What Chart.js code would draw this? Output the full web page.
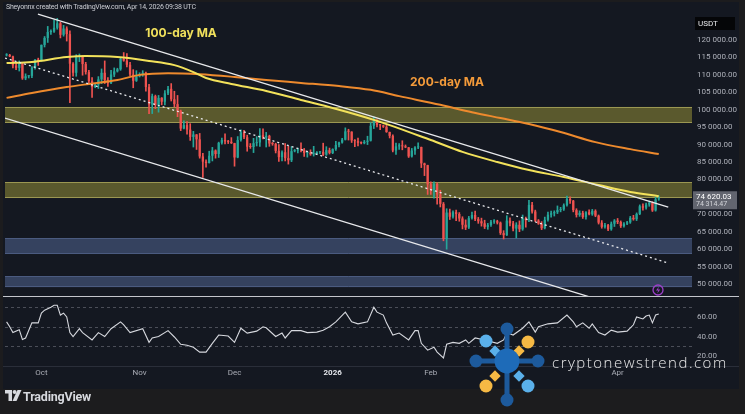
<!DOCTYPE html>
<html><head><meta charset="utf-8">
<script src="https://cdn.jsdelivr.net/npm/chart.js@4.4.1/dist/chart.umd.min.js"></script>
<style>
html,body{margin:0;padding:0;background:#1c1c1e;width:745px;height:414px;overflow:hidden;font-family:Roboto,"Noto Sans",sans-serif;}
#panel{position:absolute;left:3px;top:2px;width:736px;height:387px;background:#141821;}
canvas{position:absolute;left:0;}
#c1{top:0;}
#c2{top:297px;}
#hdr{position:absolute;left:6px;top:3px;font-size:7px;letter-spacing:-0.2px;color:#c9cbd1;white-space:nowrap;}
#sep1{position:absolute;left:3px;top:296px;width:736px;height:1px;background:#c4c6cc;}
#sep2{position:absolute;left:3px;top:366px;width:736px;height:1px;background:#2a2e39;}
#foot{position:absolute;left:5px;top:388px;height:16px;display:flex;align-items:center;color:#d7d9de;font-weight:700;font-size:12.5px;letter-spacing:-0.2px;}
#wm{position:absolute;left:552px;top:352px;font-family:"Open Sans",sans-serif;font-size:15px;font-weight:300;letter-spacing:1.5px;color:#e9e9ea;white-space:nowrap;}
#ov{position:absolute;left:0;top:0;}
</style></head>
<body>
<div id="panel"></div>
<canvas id="c1" width="745" height="297"></canvas>
<canvas id="c2" width="745" height="90"></canvas>
<div id="sep1"></div><div id="sep2"></div>
<div id="hdr">Sheyonnx created with TradingView.com, Apr 14, 2026 09:38 UTC</div>
<svg id="ov" width="745" height="414">
  <circle cx="658" cy="290" r="5" fill="none" stroke="#9c3fc9" stroke-width="1.3"/>
  <path d="M659 286.5l-3 4h2.2l-1 3 3-4h-2.2z" fill="#9c3fc9"/>
  <g>
    <rect x="504.5" y="334" width="5" height="62" fill="#1d5a9c"/>
    <rect x="482" y="358.5" width="50" height="5" fill="#1d5a9c"/>
    <circle cx="507" cy="329" r="6.5" fill="#1d5a9c"/>
    <circle cx="476" cy="361" r="6.5" fill="#1d5a9c"/>
    <circle cx="538" cy="361" r="6.5" fill="#1d5a9c"/>
    <circle cx="507" cy="400" r="6.5" fill="#1d5a9c"/>
    <circle cx="486" cy="341" r="6.5" fill="#5ab0ea"/>
    <circle cx="528" cy="342" r="6.5" fill="#f6b944"/>
    <circle cx="486" cy="386" r="6.5" fill="#f6b944"/>
    <circle cx="528" cy="386" r="6.5" fill="#5ab0ea"/>
    <rect x="491" y="347" width="8" height="8" transform="rotate(45 495 351)" fill="#5ab0ea"/>
    <rect x="515" y="347" width="8" height="8" transform="rotate(45 519 351)" fill="#f6b944"/>
    <rect x="491" y="372" width="8" height="8" transform="rotate(45 495 376)" fill="#f6b944"/>
    <rect x="515" y="372" width="8" height="8" transform="rotate(45 519 376)" fill="#5ab0ea"/>
    <circle cx="507" cy="361" r="12.5" fill="#1e6bb8"/>
  </g>
  <g transform="translate(5,390)">
    <path d="M0 0h7v11H3.5V3.5H0z" fill="#d7d9de"/>
    <circle cx="9.6" cy="2" r="2" fill="#d7d9de"/>
    <path d="M12.5 0h4l-5 11H7.5z" fill="#d7d9de"/>
  </g>
</svg>
<div id="foot" style="left:23px">TradingView</div>
<div id="wm">cryptonewstrend.com</div>
<script>
// ---- data (prices in thousands of USDT) ----
const startDay = -11; // first candle: 20 Sep 2025 (day 0 = 1 Oct 2025)
const opens = [115.6,115.7,115.3,112.7,112.0,113.3,109.0,109.6,109.7,112.1,114.4,
114.0,118.6,120.6,122.3,122.4,123.5,124.8,121.5,123.3,121.7,113.2,110.6,115.2,115.3,113.1,110.8,108.2,106.5,107.2,108.7,110.6,108.5,107.6,110.1,111.0,111.6,114.6,114.1,112.9,110.1,108.3,
109.6,110.1,110.6,106.5,101.5,103.9,101.3,103.4,102.3,104.7,106.0,103.0,101.6,99.7,94.6,95.6,94.3,92.2,92.9,91.5,86.6,85.1,84.7,86.8,88.3,87.3,90.5,91.3,90.9,90.8,
90.4,86.3,91.3,93.5,92.1,89.4,89.3,90.4,90.6,92.7,92.0,92.5,90.3,90.2,88.2,86.4,87.8,86.1,85.5,88.1,88.3,88.6,88.5,87.6,87.7,87.2,87.3,87.8,87.9,87.1,88.4,
87.6,88.7,89.9,90.6,91.4,93.8,93.7,91.2,91.0,90.5,90.4,90.8,91.1,95.4,97.0,95.6,95.5,95.1,93.6,92.5,88.3,89.5,89.6,89.5,89.2,86.6,88.3,89.2,89.3,84.6,84.1,
78.6,76.9,78.7,75.7,73.0,62.9,70.5,69.3,70.6,70.1,68.8,67.0,66.2,68.9,69.8,68.6,68.0,67.4,66.4,66.9,67.9,68.0,67.6,64.6,64.0,68.2,67.4,65.9,
67.0,65.7,68.8,68.3,72.7,70.8,68.2,67.3,66.0,68.4,69.9,70.3,70.6,71.2,71.4,72.6,74.4,73.9,71.2,69.8,70.4,69.2,70.6,70.0,71.0,69.6,67.6,66.4,66.9,65.7,67.3,
68.2,67.8,66.6,67.3,67.7,69.0,68.6,70.1,72.3,71.9,72.8,73.3,71.1,74.3];
const highs = [116.1,115.9,115.4,113.3,114.0,113.5,110.3,109.8,112.4,114.4,114.8,
118.6,121.0,123.9,122.9,125.7,126.2,125.1,124.2,123.8,122.6,113.5,115.8,116.0,115.5,113.6,111.3,109.2,107.5,109.5,111.7,114.0,109.2,111.3,112.0,111.9,115.0,116.4,116.1,113.6,111.5,111.2,
110.6,111.2,110.8,107.3,104.5,104.2,104.1,103.5,105.5,106.7,107.5,105.3,104.1,99.9,96.8,96.6,96.0,93.8,92.9,93.2,87.5,85.6,88.1,89.2,88.5,90.7,91.9,93.1,91.2,92.0,
90.4,92.3,94.2,94.1,92.7,90.3,91.8,92.3,94.6,94.5,93.5,92.7,90.6,90.4,90.0,88.2,90.3,89.5,89.4,88.6,89.0,90.5,88.9,88.0,88.5,89.5,88.0,88.0,90.4,89.4,89.0,
88.8,90.9,90.7,91.8,94.8,94.4,93.7,91.4,91.9,90.8,91.2,92.4,96.3,97.9,97.2,95.8,95.6,95.5,93.6,92.8,90.4,90.3,91.1,89.9,89.2,88.9,89.4,90.5,89.3,84.7,84.1,
79.3,79.3,79.0,76.9,73.4,71.6,71.5,71.0,71.2,70.5,69.3,68.4,69.4,70.6,70.9,69.1,68.9,68.3,67.4,68.3,68.5,68.3,67.8,65.3,69.6,69.0,68.0,67.6,
68.1,69.8,69.2,74.0,73.4,71.2,68.5,67.9,69.2,70.6,70.9,71.0,72.4,72.0,73.0,75.2,75.0,74.0,71.6,71.0,70.9,70.8,71.3,71.4,71.3,69.8,68.2,67.4,67.1,67.8,68.5,
68.8,68.1,67.6,68.0,69.4,69.7,70.4,72.7,73.0,73.2,73.8,73.6,74.9,75.3];
const lows = [115.4,115.2,112.0,111.5,111.1,108.7,108.6,109.1,109.2,111.6,112.7,
113.9,118.0,119.3,121.6,122.2,123.1,120.6,121.1,119.7,102.0,109.6,109.6,113.8,109.9,110.2,107.6,103.5,106.3,106.1,107.5,107.5,106.7,107.5,109.5,110.8,111.3,113.9,112.3,109.8,106.3,108.1,
109.4,109.6,105.3,98.9,98.9,100.3,99.3,101.4,101.4,104.3,102.5,100.8,98.0,94.0,94.5,93.0,91.2,89.3,88.6,86.1,80.6,83.5,84.7,85.3,86.1,86.3,90.1,90.2,90.3,90.3,
83.8,86.2,91.0,91.7,88.1,88.9,87.7,89.6,89.5,91.6,89.3,89.5,89.8,87.6,85.2,85.3,85.3,84.4,85.1,87.9,87.6,87.9,86.6,86.4,86.9,86.7,87.2,87.4,86.8,86.9,87.3,
87.4,88.3,89.3,90.4,91.3,91.3,90.6,89.4,89.6,90.2,90.2,90.0,91.0,94.6,95.1,94.3,94.9,93.5,91.9,87.9,87.2,88.6,88.5,89.1,86.3,86.4,87.2,88.8,83.4,81.1,75.7,
75.7,74.6,72.9,72.1,62.4,60.0,68.5,68.9,68.2,68.0,65.8,65.6,65.9,68.6,68.2,67.4,66.6,65.9,65.7,66.5,67.4,67.2,64.2,62.9,63.9,66.7,65.2,63.2,
65.0,65.4,66.3,67.9,70.3,67.9,67.1,65.6,65.8,68.0,69.2,69.5,70.2,70.7,71.1,72.3,73.1,70.7,69.2,69.4,68.8,68.6,69.8,69.7,69.3,67.2,66.0,66.0,65.3,65.4,66.5,
67.3,66.2,66.3,67.0,67.4,68.3,68.2,69.9,71.2,71.5,72.3,70.8,70.9,74.0];
const closes = [115.7,115.3,112.7,112.0,113.3,109.0,109.6,109.7,112.1,114.4,114.0,
118.6,120.6,122.3,122.4,123.5,124.8,121.5,123.3,121.7,113.2,110.6,115.2,115.3,113.1,110.8,108.2,106.5,107.2,108.7,110.6,108.5,107.6,110.1,111.0,111.6,114.6,114.1,112.9,110.1,108.3,109.6,
110.1,110.6,106.5,101.5,103.9,101.3,103.4,102.3,104.7,106.0,103.0,101.6,99.7,94.6,95.6,94.3,92.2,92.9,91.5,86.6,85.1,84.7,86.8,88.3,87.3,90.5,91.3,90.9,90.8,90.4,
86.3,91.3,93.5,92.1,89.4,89.3,90.4,90.6,92.7,92.0,92.5,90.3,90.2,88.2,86.4,87.8,86.1,85.5,88.1,88.3,88.6,88.5,87.6,87.7,87.2,87.3,87.8,87.9,87.1,88.4,87.6,
88.7,89.9,90.6,91.4,93.8,93.7,91.2,91.0,90.5,90.4,90.8,91.1,95.4,97.0,95.6,95.5,95.1,93.6,92.5,88.3,89.5,89.6,89.5,89.2,86.6,88.3,89.2,89.3,84.6,84.1,78.6,
76.9,78.7,75.7,73.0,62.9,70.5,69.3,70.6,70.1,68.8,67.0,66.2,68.9,69.8,68.6,68.0,67.4,66.4,66.9,67.9,68.0,67.6,64.6,64.0,68.2,67.4,65.9,67.0,
65.7,68.8,68.3,72.7,70.8,68.2,67.3,66.0,68.4,69.9,70.3,70.6,71.2,71.4,72.6,74.4,73.9,71.2,69.8,70.4,69.2,70.6,70.0,71.0,69.6,67.6,66.4,66.9,65.7,67.3,68.2,
67.8,66.6,67.3,67.7,69.0,68.6,70.1,72.3,71.9,72.8,73.3,71.1,74.3,74.6];

const ma100Days = [-11,-3,8,14,24,34,42,48,52,60,71,82,92,106,123,133,144,154,165,176,186,195];
const ma100 = [113.4,113.7,115.1,115.4,115.1,114.0,112.8,110.8,109.1,107.4,105.4,102.8,100.5,96.8,91.3,87.9,85.0,82.7,80.7,78.4,76.4,75.2];
const ma200Days = [-11,-3,8,15,24,31,40,50,61,71,82,94,104,113,126,136,145,154,164,175,186,195];
const ma200 = [103.4,104.8,106.5,107.4,108.5,110.0,110.5,110.2,109.4,108.5,107.7,106.8,105.7,103.9,101.4,99.3,97.6,95.9,93.6,90.7,88.7,87.3];

const rsiDays = [-11,-10,-9,-7,-6,-5,-3,-1,0,1,3,4,5,6,7,8,9,10,12,13,16,18,20,22,25,26,28,32,34,35,37,40,42,44,46,48,50,52,54,56,59,61,63,65,68,70,71,74,76,77,79,82,84,87,89,91,93,96,98,100,103,105,106,108,109,111,113,116,118,119,120,122,124,125,127,128,130,131,132,134,135,137,140,144,146,147,149,152,154,156,157,160,163,166,168,169,171,173,174,176,178,180,182,185,187,188,190,191,192,193,194,195];
const rsi = [55,50,44,47,37,38.5,54,54,64,67,70,72,72,62,64,60,44,40,48,44,36.5,44,40,48,55,52,44,48,34,38.5,40,46,39.5,32,31,29,24,24,33,41.5,40.5,34,48.5,43.5,45.5,50,49,40,43.5,38.5,46,46,44,44.5,46.5,50,55,65,55,53,55,70,65,62,54,41.5,43.5,36.5,46,46,33,26,29,24,18,32,34,33.5,33,36.5,33,38.5,36.5,33,36.5,44,41.5,48.5,55,44.5,50,53,54,62,55,50,54,48.5,53,44,41.5,46.5,44.5,45.5,52,60,58,61,62,54,62,63];

// channel / trend lines: [day, price]
const upperLineDays = [-1.1, 198];   const upperLinePrices = [127.46, 72.09];
const lowerLineDays = [-11.5, 180];  const lowerLinePrices = [97.62, 44.40];
const midLineDays = [-11.5, 198];    const midLinePrices = [114.84, 56.02];

// horizontal zones
const zoneTops    = [100.8, 79.26, 63.2, 52.3];
const zoneBottoms = [96.2, 74.67, 58.6, 49.1];
const zoneKinds   = ['olive','olive','blue','blue'];

const priceTicks = [50,55,60,65,70,75,80,85,90,95,100,105,110,115,120];
const rsiTicks = [20,40,60];
const rsiBands = [70,50,30];
const monthDays = [0,31,61,92,123,182];
const monthLabels = ['Oct','Nov','Dec','2026','Feb','Apr'];
const maLabels = ['100-day MA','200-day MA'];
const maLabelDays = [44.1, 128.1];
const maLabelPrices = [122.0, 107.95];
const lastPriceLabel = '74 620.03';
const lastPriceSub = '74 314.47';

// ---- rendering ----
Chart.defaults.font.family = 'Roboto, "Noto Sans", sans-serif';
const UP = '#26a69a', DN = '#ef5350';
const candleColors = closes.map((c,i)=> c >= opens[i] ? UP : DN);
const pts = (ds, vs) => ds.map((d,i)=>({x:d, y:vs[i]}));
const noPad = s => { s.paddingTop = 0; s.paddingBottom = 0; s.paddingLeft = 0; s.paddingRight = 0; };

const zonesPlugin = {
  id:'zones',
  beforeDatasetsDraw(chart){
    const {ctx, chartArea:a, scales:{y}} = chart;
    ctx.save();
    zoneTops.forEach((t,i)=>{
      const y1 = y.getPixelForValue(t), y2 = y.getPixelForValue(zoneBottoms[i]);
      const olive = zoneKinds[i]==='olive';
      ctx.fillStyle = olive ? '#5a592d' : '#35425f';
      ctx.fillRect(a.left, y1, a.right-a.left, y2-y1);
      ctx.strokeStyle = olive ? '#9b9752' : '#4b5b80';
      ctx.lineWidth = 1;
      ctx.beginPath();
      ctx.moveTo(a.left, Math.round(y1)+0.5); ctx.lineTo(a.right, Math.round(y1)+0.5);
      ctx.moveTo(a.left, Math.round(y2)-0.5); ctx.lineTo(a.right, Math.round(y2)-0.5);
      ctx.stroke();
    });
    ctx.restore();
  },
  afterDatasetsDraw(chart){
    const {ctx, scales:{x,y}} = chart;
    ctx.save();
    ctx.textAlign='center'; ctx.textBaseline='middle';
    ctx.font = 'bold 12px Inter, "Open Sans", sans-serif';
    ctx.fillStyle = '#f1e15c';
    ctx.fillText(maLabels[0], x.getPixelForValue(maLabelDays[0]), y.getPixelForValue(maLabelPrices[0]));
    ctx.fillStyle = '#f39a3a';
    ctx.fillText(maLabels[1], x.getPixelForValue(maLabelDays[1]), y.getPixelForValue(maLabelPrices[1]));
    ctx.restore();
  },
  afterDraw(chart){
    const {ctx, chartArea:a, scales:{y}} = chart;
    ctx.save();
    ctx.fillStyle = '#050608';
    ctx.fillRect(a.right+3, 17, 40, 13);
    ctx.fillStyle = '#e6e7ea';
    ctx.font = '8px Roboto, sans-serif';
    ctx.textBaseline='middle'; ctx.textAlign='left';
    ctx.fillText('USDT', a.right+6, 24);
    const py = y.getPixelForValue(closes[closes.length-1]);
    ctx.fillStyle = '#62656f';
    ctx.fillRect(a.right+1, py-7, 44, 18);
    ctx.fillStyle = '#ffffff';
    ctx.fillText(lastPriceLabel, a.right+4, py-1);
    ctx.fillStyle = '#d3d5da';
    ctx.font = '7px Roboto, sans-serif';
    ctx.fillText(lastPriceSub, a.right+4, py+6);
    ctx.restore();
  }
};

new Chart(document.getElementById('c1'), {
  type:'bar',
  data:{datasets:[
    {type:'line', data:pts(upperLineDays, upperLinePrices), borderColor:'#e8e9ec', borderWidth:1.3, pointRadius:0, order:0},
    {type:'line', data:pts(lowerLineDays, lowerLinePrices), borderColor:'#e8e9ec', borderWidth:1.3, pointRadius:0, order:0},
    {type:'line', data:pts(midLineDays, midLinePrices), borderColor:'#e8e9ec', borderWidth:1.3, borderDash:[2,3], pointRadius:0, order:0},
    {type:'line', data:pts(ma100Days, ma100), borderColor:'#f3e25b', borderWidth:2, pointRadius:0, cubicInterpolationMode:'monotone', order:0},
    {type:'line', data:pts(ma200Days, ma200), borderColor:'#ee8a2d', borderWidth:2, pointRadius:0, cubicInterpolationMode:'monotone', order:0},
    {type:'bar', data:closes.map((c,i)=>({x:startDay+i, y:[opens[i], c]})), backgroundColor:candleColors, barPercentage:0.72, categoryPercentage:1, grouped:false, minBarLength:1, order:1},
    {type:'bar', data:closes.map((c,i)=>({x:startDay+i, y:[lows[i], highs[i]]})), backgroundColor:candleColors, barThickness:1, grouped:false, order:2}
  ]},
  options:{
    responsive:false, animation:false, devicePixelRatio:1,
    layout:{padding:{left:5, right:0, top:13, bottom:1}},
    plugins:{legend:{display:false}, tooltip:{enabled:false}},
    scales:{
      x:{type:'linear', min:-11.5, max:205.5, offset:false, display:false},
      y:{type:'linear', position:'right', min:46.56, max:127.75,
         grid:{display:false, drawTicks:false}, border:{display:false},
         ticks:{padding:5, color:'#aeb1ba', font:{size:8}, callback:v=>v+' 000.00'},
         afterBuildTicks:s=>{s.ticks = priceTicks.map(v=>({value:v}));},
         afterFit:s=>{s.width = 53; noPad(s);}}
    }
  },
  plugins:[zonesPlugin]
});

const bandsPlugin = {
  id:'bands',
  beforeDatasetsDraw(chart){
    const {ctx, chartArea:a, scales:{y}} = chart;
    ctx.save();
    ctx.strokeStyle = 'rgba(120,123,134,0.55)';
    ctx.setLineDash([3,3]); ctx.lineWidth = 1;
    rsiBands.forEach(v=>{
      const py = Math.round(y.getPixelForValue(v))+0.5;
      ctx.beginPath(); ctx.moveTo(a.left, py); ctx.lineTo(a.right, py); ctx.stroke();
    });
    ctx.restore();
  }
};

new Chart(document.getElementById('c2'), {
  type:'line',
  data:{datasets:[{data:pts(rsiDays, rsi), borderColor:'#d6d8de', borderWidth:1.1, pointRadius:0, tension:0}]},
  options:{
    responsive:false, animation:false, devicePixelRatio:1,
    layout:{padding:{left:5, right:0, top:1, bottom:0}},
    plugins:{legend:{display:false}, tooltip:{enabled:false}},
    scales:{
      x:{type:'linear', min:-11.5, max:205.5, offset:false,
         grid:{display:false, drawTicks:false}, border:{display:false},
         ticks:{autoSkip:false, maxRotation:0, padding:2,
           color:ctx=> (ctx.tick && ctx.tick.label==='2026') ? '#e3e5ea' : '#a9acb5',
           font:ctx=> ({size:8, weight:(ctx.tick && ctx.tick.label==='2026') ? 'bold':'normal'}),
           callback:v=>{const i = monthDays.indexOf(v); return i>=0 ? monthLabels[i] : '';}},
         afterBuildTicks:s=>{s.ticks = monthDays.map(v=>({value:v}));},
         afterFit:s=>{s.height = 21; noPad(s);}},
      y:{type:'linear', position:'right', min:9.74, max:79.5,
         grid:{display:false, drawTicks:false}, border:{display:false},
         ticks:{padding:5, color:'#aeb1ba', font:{size:8}, callback:v=>v.toFixed(2)},
         afterBuildTicks:s=>{s.ticks = rsiTicks.map(v=>({value:v}));},
         afterFit:s=>{s.width = 53; noPad(s);}}
    }
  },
  plugins:[bandsPlugin]
});
</script>
</body></html>
